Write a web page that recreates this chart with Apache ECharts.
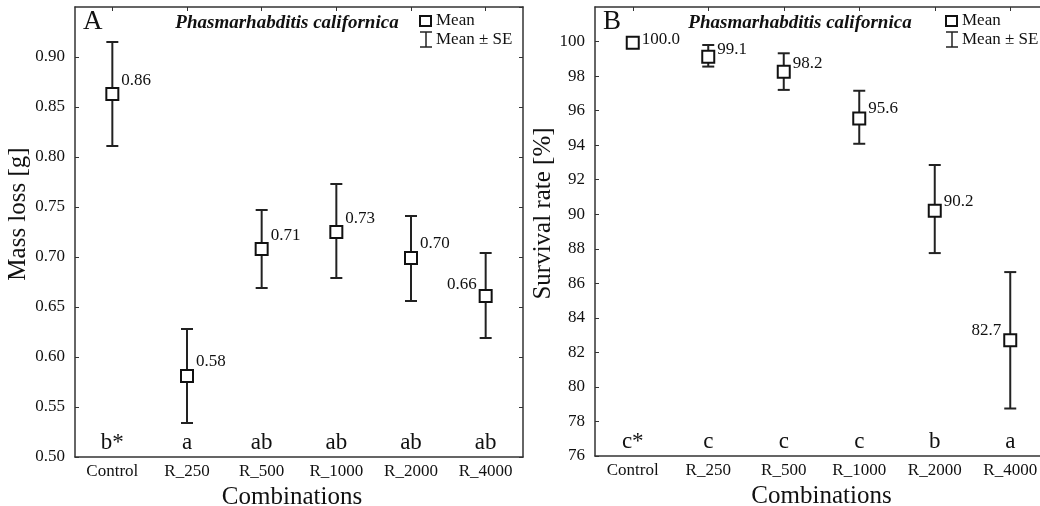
<!DOCTYPE html>
<html>
<head>
<meta charset="utf-8">
<script src="https://cdn.jsdelivr.net/npm/echarts@6/dist/echarts.min.js"></script>
<style>
  html, body { margin: 0; padding: 0; background: #fff; }
  #chart { width: 1040px; height: 506px; }
</style>
</head>
<body>
<div id="chart"></div>
<script>
// data
const categories = ['Control', 'R_250', 'R_500', 'R_1000', 'R_2000', 'R_4000']

// panel A - mass loss [g]
const massMean = [0.863, 0.581, 0.708, 0.725, 0.699, 0.661]
const massLow = [0.811, 0.534, 0.669, 0.679, 0.656, 0.619]
const massHigh = [0.915, 0.628, 0.747, 0.773, 0.741, 0.704]
const massLabels = ['0.86', '0.58', '0.71', '0.73', '0.70', '0.66']
const massLetters = ['b*', 'a', 'ab', 'ab', 'ab', 'ab']

// panel B - survival rate [%]
const survMean = [99.93, 99.12, 98.25, 95.55, 90.2, 82.7]
const survLow = [99.88, 98.55, 97.2, 94.08, 87.75, 78.75]
const survHigh = [99.98, 99.8, 99.32, 97.15, 92.85, 86.65]
const survLabels = ['100.0', '99.1', '98.2', '95.6', '90.2', '82.7']
const survLetters = ['c*', 'c', 'c', 'c', 'b', 'a']

const FONT = '"Liberation Serif", "Times New Roman", serif'
const INK = '#111'

const chart = echarts.init(document.getElementById('chart'))

function bottomAxis(grid, namePad) {
  return {
    type: 'category', gridIndex: grid, position: 'bottom', data: categories,
    name: 'Combinations', nameLocation: 'middle', nameGap: 24,
    nameTextStyle: { fontFamily: FONT, fontSize: 25, color: INK, padding: namePad },
    axisLine: { onZero: false, lineStyle: { color: '#333', width: 1.5 } },
    axisTick: { inside: true, length: 4, alignWithLabel: true, lineStyle: { color: '#333' } },
    axisLabel: { fontFamily: FONT, fontSize: 17, color: INK, margin: 6 },
    splitLine: { show: false }
  }
}
function letterAxis(grid, letters) {
  return {
    type: 'category', gridIndex: grid, position: 'bottom', data: letters,
    axisLine: { show: false, onZero: false }, axisTick: { show: false },
    axisLabel: { inside: true, margin: 3, fontFamily: FONT, fontSize: 23, color: INK },
    splitLine: { show: false }
  }
}
function topAxis(grid) {
  return {
    type: 'category', gridIndex: grid, position: 'top', data: categories,
    axisLine: { onZero: false, lineStyle: { color: '#333', width: 1.5 } },
    axisTick: { show: true, inside: true, length: 4, alignWithLabel: true, lineStyle: { color: '#333' } },
    // labels kept (invisible) so ticks can align with them
    axisLabel: { show: true, color: 'rgba(0,0,0,0)', fontSize: 10 },
    splitLine: { show: false }
  }
}
function leftAxis(grid, min, max, step, digits, name, gap) {
  return {
    type: 'value', gridIndex: grid, position: 'left', min: min, max: max, interval: step,
    name: name, nameLocation: 'middle', nameGap: gap,
    nameTextStyle: { fontFamily: FONT, fontSize: 25, color: INK, padding: [0, 0, 0, 36] },
    axisLine: { show: true, onZero: false, lineStyle: { color: '#333', width: 1.5 } },
    axisTick: { show: true, inside: true, length: 4, lineStyle: { color: '#333' } },
    axisLabel: {
      fontFamily: FONT, fontSize: 17, color: INK, margin: 10, showMaxLabel: false,
      formatter: v => v.toFixed(digits)
    },
    splitLine: { show: false }
  }
}
function rightAxis(grid, min, max, step) {
  return {
    type: 'value', gridIndex: grid, position: 'right', min: min, max: max, interval: step,
    axisLine: { show: true, onZero: false, lineStyle: { color: '#333', width: 1.5 } },
    axisTick: { show: true, inside: true, length: 4, lineStyle: { color: '#333' } },
    axisLabel: { show: false }, splitLine: { show: false }
  }
}

function errorSeries(xi, yi, low, high) {
  return {
    type: 'custom', xAxisIndex: xi, yAxisIndex: yi, z: 2,
    data: low.map((v, i) => [i, v, high[i]]),
    encode: { x: 0, y: [1, 2] },
    renderItem: function (params, api) {
      const lo = api.coord([api.value(0), api.value(1)])
      const hi = api.coord([api.value(0), api.value(2)])
      const w = 6
      const style = { stroke: '#222', lineWidth: 2 }
      return {
        type: 'group',
        children: [
          { type: 'line', shape: { x1: lo[0], y1: lo[1], x2: hi[0], y2: hi[1] }, style: style },
          { type: 'line', shape: { x1: hi[0] - w, y1: hi[1], x2: hi[0] + w, y2: hi[1] }, style: style },
          { type: 'line', shape: { x1: lo[0] - w, y1: lo[1], x2: lo[0] + w, y2: lo[1] }, style: style }
        ]
      }
    }
  }
}

function meanSeries(xi, yi, means, labels, offsets, leftIdx) {
  return {
    type: 'scatter', xAxisIndex: xi, yAxisIndex: yi, z: 5,
    symbol: 'rect', symbolSize: 12,
    itemStyle: { color: '#fff', borderColor: '#111', borderWidth: 2, opacity: 1 },
    data: means.map((v, i) => ({
      value: [i, v],
      label: {
        show: true, formatter: labels[i],
        position: i === leftIdx ? 'left' : 'right', distance: 2,
        offset: [0, offsets[i]],
        fontFamily: FONT, fontSize: 17, color: INK
      }
    }))
  }
}

function panelText(x0, letter, titleX, legX) {
  const tx = { fontFamily: FONT, fill: INK }
  return [
    { type: 'text', left: x0, top: 8, style: Object.assign({ text: letter, fontSize: 27 }, tx) },
    { type: 'text', x: titleX, y: 23, style: Object.assign({ text: 'Phasmarhabditis californica', fontSize: 19, fontWeight: 'bold', fontStyle: 'italic', align: 'center', verticalAlign: 'middle' }, tx) },
    { type: 'rect', shape: { x: legX - 6, y: 16, width: 11, height: 10 }, style: { fill: '#fff', stroke: '#111', lineWidth: 2 } },
    { type: 'line', shape: { x1: legX, y1: 32, x2: legX, y2: 47 }, style: { stroke: '#222', lineWidth: 1.5 } },
    { type: 'line', shape: { x1: legX - 6, y1: 32, x2: legX + 6, y2: 32 }, style: { stroke: '#222', lineWidth: 1.5 } },
    { type: 'line', shape: { x1: legX - 6, y1: 47, x2: legX + 6, y2: 47 }, style: { stroke: '#222', lineWidth: 1.5 } },
    { type: 'text', x: legX + 10, y: 21, style: Object.assign({ text: 'Mean', fontSize: 17, verticalAlign: 'middle' }, tx) },
    { type: 'text', x: legX + 10, y: 40, style: Object.assign({ text: 'Mean \u00b1 SE', fontSize: 17, verticalAlign: 'middle' }, tx) }
  ]
}

const option = {
  backgroundColor: '#fff',
  animation: false,
  grid: [
    { left: 75, top: 7, width: 448, height: 450, outerBoundsMode: 'none', show: false },
    { left: 595, top: 7, width: 453, height: 449, outerBoundsMode: 'none', show: false }
  ],
  xAxis: [
    bottomAxis(0, [0, 14, 0, 0]), letterAxis(0, massLetters), topAxis(0),
    bottomAxis(1, 0), letterAxis(1, survLetters), topAxis(1)
  ],
  yAxis: [
    leftAxis(0, 0.5, 0.95, 0.05, 2, 'Mass loss [g]', 37), rightAxis(0, 0.5, 0.95, 0.05),
    leftAxis(1, 76, 102, 2, 0, 'Survival rate [%]', 34), rightAxis(1, 76, 102, 2)
  ],
  series: [
    errorSeries(0, 0, massLow, massHigh),
    meanSeries(0, 0, massMean, massLabels, [-13, -14, -13, -13, -14, -11], 5),
    errorSeries(3, 2, survLow, survHigh),
    meanSeries(3, 2, survMean, survLabels, [-3, -7, -8, -10, -9, -10], 5)
  ],
  graphic: panelText(83, 'A', 287, 426).concat(panelText(603, 'B', 800, 952))
}

chart.setOption(option)
</script>
</body>
</html>
